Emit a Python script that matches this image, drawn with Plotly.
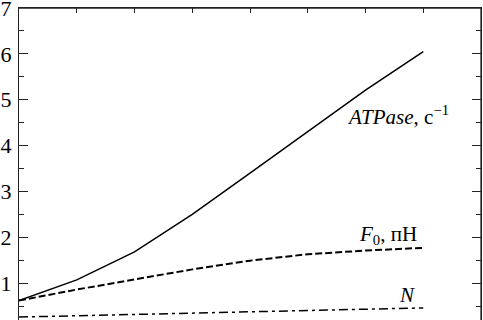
import plotly.graph_objects as go

x_pos = [0, 1, 2, 3, 4, 5, 6, 7]
atpase = [0.62, 1.07, 1.68, 2.50, 3.40, 4.31, 5.21, 6.05]
f0 = [0.62, 0.86, 1.08, 1.30, 1.49, 1.63, 1.71, 1.77]
n_vals = [0.26, 0.29, 0.32, 0.35, 0.38, 0.41, 0.44, 0.46]
y_ticks = [1, 2, 3, 4, 5, 6, 7]
y_minor = [0.5, 1.5, 2.5, 3.5, 4.5, 5.5, 6.5]

FONT = "Liberation Serif, Times New Roman, Times, serif"
AX = "#222"

fig = go.Figure()
fig.add_trace(go.Scatter(x=x_pos, y=atpase, mode="lines",
                         line=dict(color="black", width=1.5)))
fig.add_trace(go.Scatter(x=x_pos, y=f0, mode="lines",
                         line=dict(color="black", width=2, dash="7px,3px")))
fig.add_trace(go.Scatter(x=x_pos, y=n_vals, mode="lines",
                         line=dict(color="black", width=1.5, dash="9px,4px,3px,4px")))

fig.add_annotation(x=6.57, y=4.65, text="<i>ATPase</i>, с<sup>−1</sup>",
                   showarrow=False, font=dict(family=FONT, size=21, color="black"))
fig.add_annotation(x=6.39, y=2.04, text="<i>F</i><sub>0</sub>, пН",
                   showarrow=False, font=dict(family=FONT, size=21, color="black"))
fig.add_annotation(x=6.72, y=0.74, text="<i>N</i>",
                   showarrow=False, font=dict(family=FONT, size=21, color="black"))

# frame (top and right edges of the plot box)
fig.add_shape(type="line", xref="paper", yref="paper", x0=0, x1=1, y0=1, y1=1,
              line=dict(color=AX, width=1.3), layer="above")
fig.add_shape(type="line", xref="paper", yref="paper", x0=1, x1=1, y0=0, y1=1,
              line=dict(color=AX, width=1.3), layer="above")

fig.update_layout(
    width=483, height=320,
    margin=dict(l=19, r=2, t=8, b=0, autoexpand=False),
    paper_bgcolor="white", plot_bgcolor="white",
    showlegend=False,
    font=dict(family=FONT, size=21, color="black"),
    xaxis=dict(range=[0, 8], side="top", showline=True, linecolor=AX, linewidth=1.2,
               ticks="inside", ticklen=5, tickcolor=AX, tickwidth=1.2, dtick=1, tick0=0,
               showticklabels=False,
               showgrid=False, zeroline=False, mirror=False,
               automargin=False),
    yaxis=dict(range=[0.196, 7], showline=True, linecolor=AX, linewidth=1.2,
               mirror="ticks", ticks="inside", ticklen=9, tickcolor=AX,
               tickvals=y_ticks, ticktext=[str(v) for v in y_ticks],
               minor=dict(tickvals=y_minor, ticks="inside", ticklen=5, tickcolor=AX),
               showgrid=False, zeroline=False, automargin=False,
               ticklabeloverflow="allow",
               tickfont=dict(family=FONT, size=22, color="black"),
               ticklabelstandoff=2),
)

fig.write_html("out.html", config={"displayModeBar": False},
               post_script="document.body.style.margin='0';document.body.style.padding='0';")
